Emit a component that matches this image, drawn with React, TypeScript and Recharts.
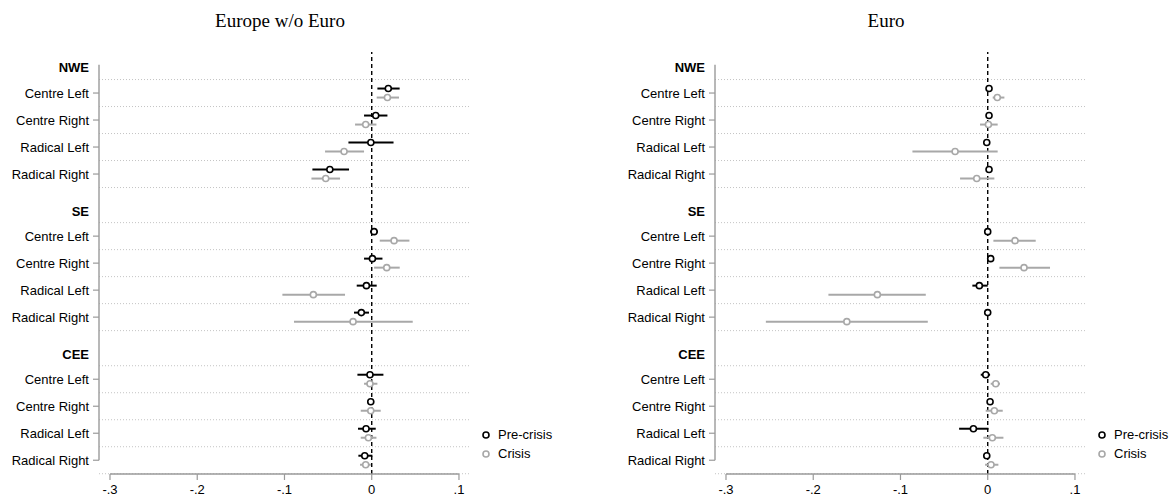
import React from 'react';
import { ScatterChart, Scatter, XAxis, YAxis, ErrorBar, ReferenceLine } from 'recharts';

// coefficient estimates: [estimate, lower CI, upper CI]
// order: NWE (CL, CR, RL, RR), SE (...), CEE (...)
const regions = ['NWE', 'SE', 'CEE'];
const families = ['Centre Left', 'Centre Right', 'Radical Left', 'Radical Right'];
const xTicks = [-0.3, -0.2, -0.1, 0, 0.1];

const nonEuroPre = [
  [0.019, 0.0065, 0.032], [0.0046, -0.0088, 0.018], [-0.001, -0.0267, 0.025], [-0.048, -0.068, -0.026],
  [0.0027, -0.002, 0.0072], [0.0008, -0.0088, 0.0123], [-0.0061, -0.0172, 0.0057], [-0.0119, -0.0203, -0.0031],
  [-0.002, -0.0164, 0.0134], [-0.0011, -0.005, 0.0027], [-0.0065, -0.0157, 0.0046], [-0.008, -0.0153, 0.0008],
];
const nonEuroCrisis = [
  [0.018, 0.0057, 0.0313], [-0.0069, -0.0191, 0.0054], [-0.0317, -0.0535, -0.0088], [-0.0527, -0.0691, -0.0363],
  [0.0256, 0.0092, 0.0432], [0.0172, 0.0027, 0.0321], [-0.0669, -0.1024, -0.0306], [-0.0214, -0.0891, 0.047],
  [-0.002, -0.0088, 0.0065], [-0.0011, -0.0126, 0.0103], [-0.0038, -0.0126, 0.0054], [-0.0069, -0.0134, -0.0011],
];
const euroPre = [
  [0.0015, -0.001, 0.004], [0.0015, -0.001, 0.004], [-0.0011, -0.004, 0.002], [0.0015, -0.001, 0.004],
  [0.0, -0.0025, 0.0025], [0.0034, 0.0005, 0.006], [-0.0096, -0.0176, 0.0], [0.0, -0.0025, 0.0025],
  [-0.0023, -0.008, 0.0027], [0.0027, 0.0, 0.005], [-0.0164, -0.0328, 0.0008], [-0.0011, -0.0035, 0.0015],
];
const euroCrisis = [
  [0.011, 0.0057, 0.0191], [0.0008, -0.0088, 0.0114], [-0.0374, -0.0863, 0.0114], [-0.0126, -0.0317, 0.0076],
  [0.0313, 0.0065, 0.055], [0.0416, 0.0134, 0.0714], [-0.1265, -0.1826, -0.071], [-0.1615, -0.2543, -0.0687],
  [0.0092, 0.0034, 0.0141], [0.0076, -0.0023, 0.0172], [0.0053, -0.005, 0.018], [0.0038, -0.003, 0.0122],
];

const GROUP_STEP = 5.3;
const OFFSET = 0.167;
const PLOT_LEFT = 99;
const PLOT_RIGHT = 469;
const X_DOMAIN = [-0.3126, 0.1115];
const Y_DOMAIN = [-0.52, 15.11];
const AXIS_GRAY = '#9a9a9a';
const CRISIS_GRAY = '#a8a8a8';

const pos = (g: number, k: number) => 1 + g * GROUP_STEP + k;

const yTicks: { value: number; label: string; header: boolean }[] = [];
const gridLines: number[] = [];
regions.forEach((r, g) => {
  yTicks.push({ value: pos(g, 0) - 0.93, label: r, header: true });
  families.forEach((f, k) => yTicks.push({ value: pos(g, k), label: f, header: false }));
  for (let j = 0; j <= 4; j++) gridLines.push(pos(g, 0) - 0.5 + j);
});

const toPoints = (rows: number[][], shift: number) =>
  rows.map(([est, lo, hi], i) => ({
    x: est,
    y: pos(Math.floor(i / 4), i % 4) + shift,
    err: [est - lo, hi - est],
  }));

const fmt = (v: number) => (v === 0 ? '0' : v.toFixed(1).replace('0.', '.'));

const YTick = (props: any) => {
  const { y, index } = props;
  const t = yTicks[index];
  if (!t) return null;
  return (
    <g>
      <text x={PLOT_LEFT - 10} y={y} textAnchor="end" dominantBaseline="central" fontSize={13}
        fontWeight={t.header ? 'bold' : 'normal'} fill="#000">{t.label}</text>
      {!t.header && <line x1={PLOT_LEFT - 6} x2={PLOT_LEFT} y1={y} y2={y} stroke={AXIS_GRAY} strokeWidth={1.2} />}
    </g>
  );
};

const dot = (color: string) => (p: any) => (
  <circle cx={p.cx} cy={p.cy} r={3} fill="#fff" stroke={color} strokeWidth={1.6} />
);

const Panel = ({ title, pre, crisis, left, titleX }: any) => (
  <div style={{ position: 'absolute', left, top: 0, width: 588, height: 501 }}>
    <div style={{ position: 'absolute', left: titleX - 150, width: 300, top: 10, textAlign: 'center',
      fontFamily: '"Liberation Serif", "Times New Roman", serif', fontSize: 19 }}>{title}</div>
    <ScatterChart width={588} height={501} margin={{ top: 52, right: 588 - PLOT_RIGHT, bottom: 0, left: 0 }}>
      <XAxis type="number" dataKey="x" domain={X_DOMAIN} allowDataOverflow ticks={xTicks} tickFormatter={fmt}
        axisLine={false} tickLine={{ stroke: AXIS_GRAY, strokeWidth: 1.2 }} tickSize={6} tickMargin={5}
        height={27} tick={{ fill: '#000', fontSize: 13 }} />
      <YAxis type="number" dataKey="y" domain={Y_DOMAIN} allowDataOverflow reversed width={PLOT_LEFT}
        ticks={yTicks.map((t) => t.value)} interval={0} tick={<YTick />} axisLine={false} tickLine={false} />
      {gridLines.map((v) => (
        <ReferenceLine key={v} y={v} stroke="#c4c4c4" strokeDasharray="1 2" strokeWidth={1} />
      ))}
      <ReferenceLine x={0} stroke="#000" strokeDasharray="4 3" strokeWidth={1.4} />
      <ReferenceLine segment={[{ x: X_DOMAIN[0], y: -0.05 }, { x: X_DOMAIN[0], y: 14.6 }]} stroke={AXIS_GRAY} strokeWidth={1.4} />
      <ReferenceLine segment={[{ x: -0.3, y: Y_DOMAIN[1] }, { x: 0.1, y: Y_DOMAIN[1] }]} stroke={AXIS_GRAY} strokeWidth={1.4} />
      <Scatter name="Crisis" data={toPoints(crisis, OFFSET)} shape={dot(CRISIS_GRAY)} isAnimationActive={false}>
        <ErrorBar dataKey="err" direction="x" width={0} stroke={CRISIS_GRAY} strokeWidth={2} />
      </Scatter>
      <Scatter name="Pre-crisis" data={toPoints(pre, -OFFSET)} shape={dot('#000')} isAnimationActive={false}>
        <ErrorBar dataKey="err" direction="x" width={0} stroke="#000" strokeWidth={2} />
      </Scatter>
    </ScatterChart>
    <div style={{ position: 'absolute', left: PLOT_RIGHT + 12, top: 425, fontSize: 13, lineHeight: '19px' }}>
      {[['Pre-crisis', '#000'], ['Crisis', CRISIS_GRAY]].map(([name, c]) => (
        <div key={name} style={{ display: 'flex', alignItems: 'center' }}>
          <svg width={12} height={12} style={{ marginRight: 5 }}>
            <circle cx={5} cy={6} r={3} fill="#fff" stroke={c} strokeWidth={1.6} />
          </svg>
          {name}
        </div>
      ))}
    </div>
  </div>
);

export default function App() {
  return (
    <div style={{ position: 'absolute', left: 0, top: 0, width: 1176, height: 501, background: '#fff',
      fontFamily: '"Liberation Sans", Arial, sans-serif', overflow: 'hidden' }}>
      <Panel title="Europe w/o Euro" pre={nonEuroPre} crisis={nonEuroCrisis} left={0} titleX={280} />
      <Panel title="Euro" pre={euroPre} crisis={euroCrisis} left={616} titleX={270} />
    </div>
  );
}
